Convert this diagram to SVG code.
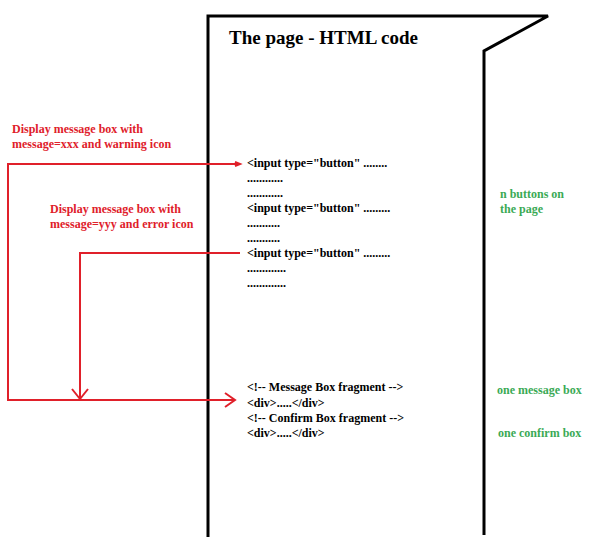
<svg xmlns="http://www.w3.org/2000/svg" width="600" height="545" viewBox="0 0 600 545">
<style>
.page{fill:none;stroke:#000;stroke-width:3}
.red{fill:none;stroke:#e0202a;stroke-width:2}
.rt{font-family:"Liberation Serif","Times New Roman",serif;font-weight:bold;font-size:12px;fill:#e0202a}
.gt{font-family:"Liberation Serif","Times New Roman",serif;font-weight:bold;font-size:12px;fill:#3aaa55}
.ct{font-family:"Liberation Serif","Times New Roman",serif;font-weight:bold;font-size:12px;fill:#000}
.title{font-family:"Liberation Serif","Times New Roman",serif;font-weight:bold;font-size:19px;fill:#000}
</style>
<rect width="600" height="545" fill="#fff"/>
<g id="page">
<path class="page" d="M208,537 V16 H548 L484,51 V535"/>
<text class="title" x="229" y="44">The page - HTML code</text>
</g>
<g id="code">
<text class="ct" x="247" y="167">&lt;input type="button" ........</text>
<text class="ct" x="247" y="182">............</text>
<text class="ct" x="247" y="197">............</text>
<text class="ct" x="247" y="212">&lt;input type="button" .........</text>
<text class="ct" x="247" y="227">...........</text>
<text class="ct" x="247" y="242">...........</text>
<text class="ct" x="247" y="257">&lt;input type="button" .........</text>
<text class="ct" x="247" y="272">.............</text>
<text class="ct" x="247" y="287">.............</text>
<text class="ct" x="247" y="391">&lt;!-- Message Box fragment --&gt;</text>
<text class="ct" x="247" y="407">&lt;div&gt;.....&lt;/div&gt;</text>
<text class="ct" x="247" y="422">&lt;!-- Confirm Box fragment --&gt;</text>
<text class="ct" x="247" y="437">&lt;div&gt;.....&lt;/div&gt;</text>
</g>
<g id="label-warning">
<text class="rt" x="12" y="133">Display message box with</text>
<text class="rt" x="12" y="148">message=xxx and warning icon</text>
</g>
<g id="label-error">
<text class="rt" x="50" y="213">Display message box with</text>
<text class="rt" x="50" y="228">message=yyy and error icon</text>
</g>
<g id="notes">
<text class="gt" x="500" y="198">n buttons on</text>
<text class="gt" x="500" y="213">the page</text>
<text class="gt" x="497" y="394">one message box</text>
<text class="gt" x="498" y="437">one confirm box</text>
</g>
<g id="connectors">
<path class="red" d="M239,164 H8 V400 H235"/>
<path class="red" d="M225,393 L235,400 L225,407"/>
<path class="red" d="M235,162 L240,164 L235,166"/>
<path class="red" d="M240,253 H80 V399"/>
<path class="red" d="M72,389 L80,399 L88,389"/>
</g>
</svg>
